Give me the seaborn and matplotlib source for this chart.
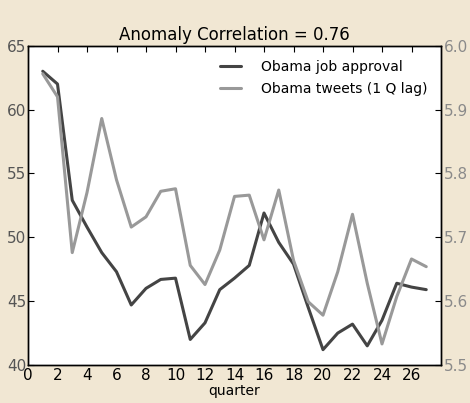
import matplotlib
matplotlib.use("Agg")
import matplotlib.pyplot as plt
import seaborn as sns
import pandas as pd

quarters = list(range(1, 28))
approval = [63.0, 62.0, 52.9, 50.8, 48.8, 47.3, 44.7, 46.0, 46.7, 46.8,
            42.0, 43.3, 45.9, 46.8, 47.8, 51.9, 49.6, 47.9, 44.5, 41.2,
            42.5, 43.2, 41.5, 43.5, 46.4, 46.1, 45.9]
tweets = [5.956, 5.920, 5.676, 5.770, 5.886, 5.790, 5.716, 5.732, 5.772, 5.776,
          5.656, 5.626, 5.680, 5.764, 5.766, 5.696, 5.774, 5.664, 5.599, 5.578,
          5.646, 5.736, 5.628, 5.533, 5.607, 5.666, 5.654]
xticks = list(range(0, 28, 2))
left_ticks = [40, 45, 50, 55, 60, 65]
right_ticks = [5.5, 5.6, 5.7, 5.8, 5.9, 6.0]

df = pd.DataFrame({"quarter": quarters, "approval": approval, "tweets": tweets})

sns.set_style("white")
plt.rcParams['font.family'] = ['DejaVu Sans']
plt.rcParams['text.color'] = 'black'
plt.rcParams['axes.labelcolor'] = 'black'

fig = plt.figure(figsize=(4.7, 4.03), dpi=100, facecolor="#f1e7d3")
ax = fig.add_axes([28/470, 1-365/403, (441-28)/470, (365-45.7)/403])
ax2 = ax.twinx()

sns.lineplot(data=df, x="quarter", y="approval", ax=ax, color="#444444",
             lw=2.2, label="Obama job approval", legend=False)
sns.lineplot(data=df, x="quarter", y="tweets", ax=ax2, color="#999999",
             lw=2.2, label="Obama tweets (1 Q lag)", legend=False)

ax.set_xlim(0, 28)
ax.set_ylim(40, 65)
ax2.set_ylim(5.5, 6.0)
ax.set_xticks(xticks)
ax.set_yticks(left_ticks)
ax2.set_yticks(right_ticks)
ax2.set_yticklabels([f"{v:.1f}" for v in right_ticks])
ax.set_ylabel("")
ax2.set_ylabel("")
ax.set_xlabel("quarter", fontsize=10, labelpad=1, color="black")

for a in (ax, ax2):
    for s in a.spines.values():
        s.set_visible(True)
        s.set_color("black")
        s.set_linewidth(1.0)

ax.tick_params(axis="x", direction="in", length=4, width=0.8, top=True,
               labelsize=11, pad=2, colors="black")
ax.tick_params(axis="y", direction="in", length=4, width=0.8, labelsize=11,
               pad=1, labelcolor="#555555", color="black")
ax2.tick_params(axis="y", direction="in", length=4, width=0.8, labelsize=11,
                pad=2, labelcolor="#8a8a8a", color="black")

ax.set_title("Anomaly Correlation = 0.76", fontsize=12, pad=4, color="black")

h1, l1 = ax.get_legend_handles_labels()
h2, l2 = ax2.get_legend_handles_labels()
leg = ax2.legend(h1 + h2, l1 + l2, loc="upper right", frameon=False, fontsize=10,
                 handlelength=1.5, handletextpad=1.4, borderaxespad=0.6,
                 labelspacing=0.6)
for t in leg.get_texts():
    t.set_color("black")

fig.savefig("out.png", dpi=100, facecolor=fig.get_facecolor())
